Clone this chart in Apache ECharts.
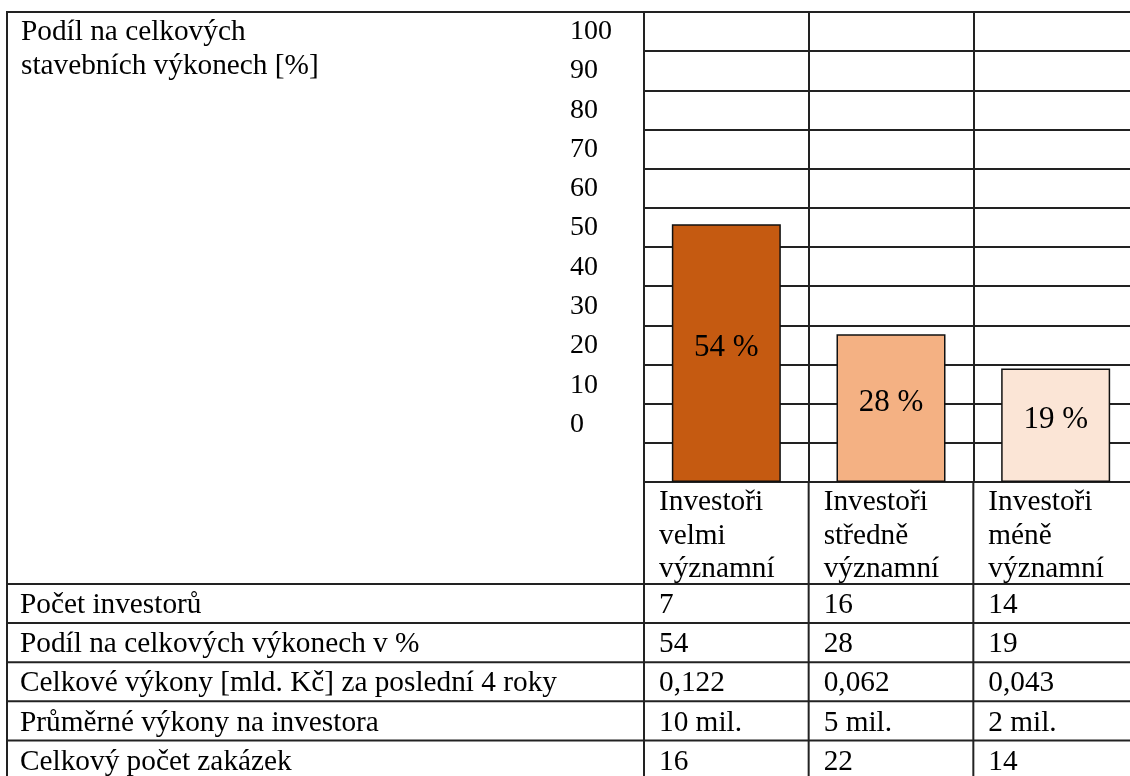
<!DOCTYPE html>
<html>
<head>
<meta charset="utf-8">
<script src="https://cdn.jsdelivr.net/npm/echarts@6/dist/echarts.min.js"></script>
<style>
html,body{margin:0;padding:0;background:#fff;}
#main{width:1130px;height:776px;}
</style>
</head>
<body>
<div id="main"></div>
<script>
// ---- data ----
const categories = ['Investoři velmi významní', 'Investoři středně významní', 'Investoři méně významní'];
const categoryLines = [
  ['Investoři', 'velmi', 'významní'],
  ['Investoři', 'středně', 'významní'],
  ['Investoři', 'méně', 'významní']
];
const shareLabels = [54, 28, 19];              // numbers printed in the bars (%)
const drawnBarHeights = [65.8, 37.7, 29.0];    // bar heights as drawn, in grid-row units (10 per row)
const axisTitleLines = ['Podíl na celkových', 'stavebních výkonech [%]'];
const yTickMin = 0, yTickMax = 100, yTickStep = 10;
const rowLabels = [
  'Počet investorů',
  'Podíl na celkových výkonech v %',
  'Celkové výkony [mld. Kč] za poslední 4 roky',
  'Průměrné výkony na investora',
  'Celkový počet zakázek'
];
const rowValues = [
  ['7', '16', '14'],
  ['54', '28', '19'],
  ['0,122', '0,062', '0,043'],
  ['10 mil.', '5 mil.', '2 mil.'],
  ['16', '22', '14']
];

// ---- styles ----
const FONT = '"Liberation Serif", "DejaVu Serif", serif';
const LINE = '#222';
const LW = 2;
const TXT = 29.3;
const barColors = ['#C55A11', '#F4B183', '#FBE5D6'];

const chart = echarts.init(document.getElementById('main'), null, {renderer: 'canvas'});

const option = {
  animation: false,
  backgroundColor: '#fff',
  textStyle: {fontFamily: FONT, color: '#000'},
  grid: [
    {left: 644, top: 12, width: 494, height: 470, containLabel: false, outerBoundsMode: 'none'},
    {left: 560, top: 31.7, width: 10, height: 392.8, containLabel: false, outerBoundsMode: 'none'}
  ],
  xAxis: [
    {
      type: 'category', gridIndex: 0, data: categories, boundaryGap: true,
      axisLine: {show: true, lineStyle: {color: LINE, width: LW}},
      axisTick: {show: false}, axisLabel: {show: false, interval: 0},
      splitLine: {show: true, interval: 0, lineStyle: {color: LINE, width: LW}}
    },
    {type: 'value', gridIndex: 1, show: false}
  ],
  yAxis: [
    {
      type: 'value', gridIndex: 0, min: 0, max: 120, interval: 10,
      axisLine: {show: false}, axisTick: {show: false}, axisLabel: {show: false},
      splitLine: {show: true, lineStyle: {color: LINE, width: LW}}
    },
    {
      type: 'value', gridIndex: 1, position: 'right',
      min: yTickMin, max: yTickMax, interval: yTickStep,
      axisLine: {show: false}, axisTick: {show: false}, splitLine: {show: false},
      axisLabel: {show: true, margin: 0, align: 'left', fontSize: 28, fontFamily: FONT, color: '#000'}
    }
  ],
  series: [{
    type: 'bar', xAxisIndex: 0, yAxisIndex: 0, barWidth: 109,
    data: drawnBarHeights.map((v, i) => ({value: v, itemStyle: {color: barColors[i]}})),
    itemStyle: {borderColor: '#111', borderWidth: 1.5},
    label: {
      show: true, position: 'inside', offset: [0, -5],
      fontSize: 31, fontFamily: FONT, color: '#000',
      formatter: p => shareLabels[p.dataIndex] + ' %'
    }
  }]
};
chart.setOption(option);

// ---- table around the chart, positioned from the chart's own axes ----
const gridBottom = chart.convertToPixel({yAxisIndex: 0}, 0);
const gridTop = chart.convertToPixel({yAxisIndex: 0}, 120);
const c0 = chart.convertToPixel({xAxisIndex: 0}, 0);
const c1 = chart.convertToPixel({xAxisIndex: 0}, 1);
const band = c1 - c0;
const colEdges = categories.map((_, i) => chart.convertToPixel({xAxisIndex: 0}, i) - band / 2);
const leftX = 7;
const rowH = 39.1;
const firstRowTop = 584;
const tableRight = 1140;

const g = [];
const hline = (x1, x2, y) => g.push({type: 'line', shape: {x1, y1: y, x2, y2: y}, style: {stroke: LINE, lineWidth: LW}, silent: true});
const vline = (x, y1, y2) => g.push({type: 'line', shape: {x1: x, y1, x2: x, y2}, style: {stroke: LINE, lineWidth: LW}, silent: true});
const text = (x, y, t, extra) => g.push(Object.assign({type: 'text', x, y, silent: true,
  style: Object.assign({text: t, fontSize: TXT, fontFamily: FONT, fill: '#000', verticalAlign: 'middle', align: 'left'}, extra || {})}));

// outer top and left borders
hline(leftX - 1, colEdges[0], gridTop);
vline(leftX, gridTop - 1, 776);
// column lines below the chart
colEdges.forEach(x => vline(x, gridBottom, 776));
// row lines
for (let r = 0; r <= rowLabels.length; r++) hline(leftX - 1, tableRight, firstRowTop + r * rowH);

// title in the left cell
text(21, 32.5, axisTitleLines[0]);
text(21, 66.5, axisTitleLines[1]);

// category labels
categoryLines.forEach((lines, i) => {
  lines.forEach((ln, k) => text(colEdges[i] + 15, 502.5 + k * 33.5, ln));
});

// data rows
rowLabels.forEach((lab, r) => {
  const cy = firstRowTop + r * rowH + rowH / 2 + 2;
  text(20, cy, lab);
  rowValues[r].forEach((v, i) => text(colEdges[i] + 15, cy, v));
});

chart.setOption({graphic: {elements: g}});
</script>
</body>
</html>
